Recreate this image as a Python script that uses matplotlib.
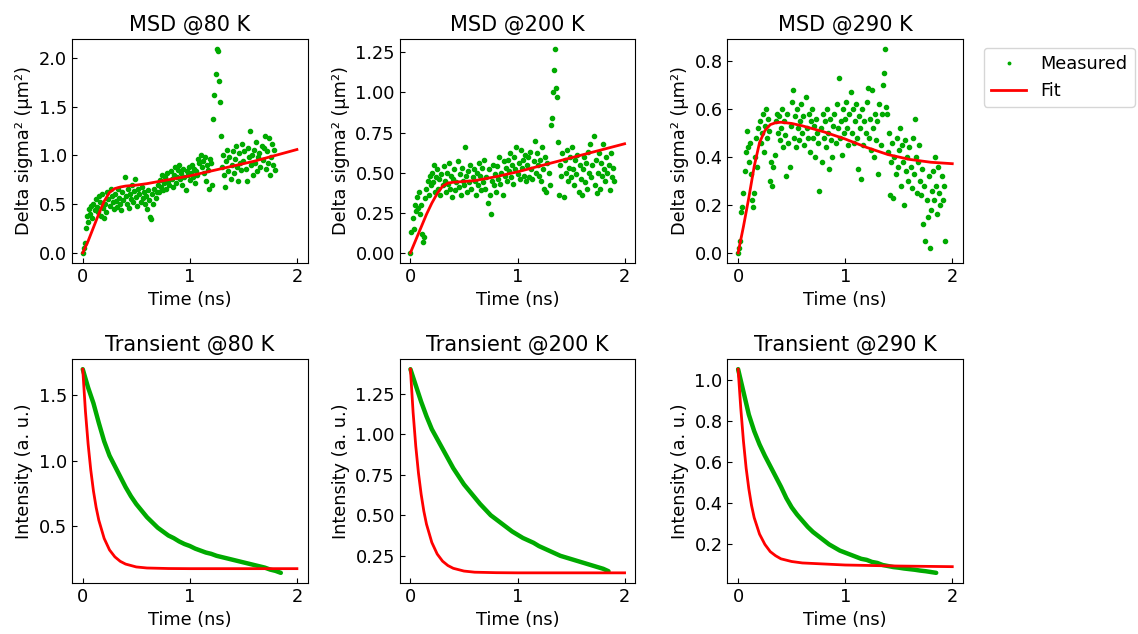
import numpy as np
import matplotlib
matplotlib.use("Agg")
import matplotlib.pyplot as plt
from matplotlib.ticker import MultipleLocator

temps = ["80 K", "200 K", "290 K"]

# MSD measured (sampled every 0.01 ns)
msd_80 = [
    0.00, 0.05, 0.10, 0.25, 0.38, 0.32, 0.45, 0.40, 0.48, 0.36,
    0.50, 0.44, 0.55, 0.47, 0.42, 0.58, 0.52, 0.38, 0.60, 0.46,
    0.36, 0.50, 0.42, 0.62, 0.55, 0.48, 0.65, 0.58, 0.52, 0.45,
    0.60, 0.53, 0.47, 0.66, 0.56, 0.50, 0.44, 0.62, 0.54, 0.78,
    0.58, 0.50, 0.65, 0.46, 0.60, 0.55, 0.70, 0.52, 0.63, 0.76,
    0.57, 0.48, 0.66, 0.60, 0.52, 0.68, 0.56, 0.62, 0.50, 0.58,
    0.45, 0.64, 0.54, 0.37, 0.35, 0.60, 0.50, 0.66, 0.56, 0.62,
    0.70, 0.62, 0.75, 0.68, 0.80, 0.64, 0.72, 0.78, 0.66, 0.82,
    0.74, 0.70, 0.84, 0.76, 0.68, 0.80, 0.88, 0.72, 0.78, 0.85,
    0.90, 0.76, 0.82, 0.70, 0.86, 0.78, 0.64, 0.84, 0.80, 0.88,
    0.75, 0.82, 0.90, 0.78, 0.86, 0.72, 0.84, 0.80, 0.96, 0.92,
    1.00, 0.88, 0.94, 0.82, 0.98, 0.74, 0.90, 0.85, 0.66, 0.96,
    0.92, 0.70, 1.37, 1.62, 1.84, 2.09, 2.07, 1.76, 1.55, 1.20,
    0.88, 1.00, 0.80, 0.68, 0.94, 1.06, 0.84, 0.98, 0.76, 0.90,
    1.05, 0.82, 0.96, 1.10, 0.88, 0.74, 1.02, 0.92, 0.85, 1.12,
    0.94, 1.04, 0.86, 0.74, 1.08, 0.98, 1.25, 0.90, 1.00, 0.80,
    1.06, 0.92, 1.14, 0.84, 0.98, 1.02, 0.88, 1.10, 0.95, 1.08,
    1.20, 0.86, 1.04, 0.92, 1.18, 0.80, 0.98, 1.12, 0.90, 1.06,
    0.85,
]
msd_200 = [
    0.00, 0.13, 0.22, 0.15, 0.30, 0.26, 0.35, 0.28, 0.38, 0.24,
    0.30, 0.12, 0.07, 0.10, 0.34, 0.40, 0.45, 0.36, 0.48, 0.42,
    0.50, 0.44, 0.55, 0.38, 0.47, 0.52, 0.40, 0.46, 0.36, 0.49,
    0.42, 0.54, 0.45, 0.38, 0.50, 0.43, 0.56, 0.40, 0.48, 0.35,
    0.46, 0.52, 0.39, 0.44, 0.57, 0.41, 0.49, 0.36, 0.53, 0.45,
    0.42, 0.66, 0.48, 0.38, 0.51, 0.44, 0.55, 0.40, 0.47, 0.52,
    0.45, 0.36, 0.50, 0.42, 0.56, 0.48, 0.39, 0.53, 0.44, 0.58,
    0.40, 0.47, 0.31, 0.52, 0.36, 0.24, 0.45, 0.55, 0.42, 0.49,
    0.38, 0.54, 0.46, 0.60, 0.43, 0.50, 0.36, 0.57, 0.48, 0.53,
    0.45, 0.58, 0.51, 0.62, 0.47, 0.55, 0.43, 0.60, 0.52, 0.66,
    0.49, 0.56, 0.46, 0.64, 0.53, 0.58, 0.48, 0.61, 0.45, 0.55,
    0.60, 0.47, 0.63, 0.52, 0.46, 0.57, 0.70, 0.50, 0.62, 0.55,
    0.48, 0.58, 0.45, 0.66, 0.52, 0.40, 0.60, 0.38, 0.56, 0.50,
    0.42, 0.80, 0.84, 1.00, 1.14, 1.27, 1.03, 0.97, 0.69, 0.36,
    0.55, 0.48, 0.62, 0.35, 0.58, 0.50, 0.64, 0.45, 0.53, 0.60,
    0.47, 0.66, 0.52, 0.42, 0.58, 0.49, 0.61, 0.38, 0.55, 0.46,
    0.36, 0.52, 0.60, 0.44, 0.56, 0.40, 0.63, 0.50, 0.68, 0.47,
    0.55, 0.73, 0.42, 0.58, 0.37, 0.50, 0.62, 0.40, 0.56, 0.48,
    0.68, 0.52, 0.45, 0.60, 0.50, 0.55, 0.39, 0.62, 0.47, 0.53,
    0.45,
]
msd_290 = [
    0.00, 0.02, 0.05, 0.17, 0.19, 0.25, 0.34, 0.42, 0.51, 0.44,
    0.38, 0.46, 0.33, 0.22, 0.19, 0.25, 0.40, 0.48, 0.36, 0.52,
    0.55, 0.46, 0.50, 0.58, 0.42, 0.53, 0.60, 0.48, 0.56, 0.51,
    0.30, 0.38, 0.28, 0.36, 0.41, 0.55, 0.58, 0.50, 0.57, 0.47,
    0.52, 0.60, 0.44, 0.55, 0.49, 0.32, 0.58, 0.46, 0.36, 0.53,
    0.63, 0.68, 0.48, 0.57, 0.44, 0.60, 0.52, 0.47, 0.55, 0.62,
    0.50, 0.57, 0.45, 0.65, 0.52, 0.48, 0.58, 0.42, 0.55, 0.60,
    0.48, 0.53, 0.40, 0.56, 0.50, 0.46, 0.26, 0.52, 0.38, 0.58,
    0.48, 0.55, 0.44, 0.60, 0.50, 0.35, 0.56, 0.47, 0.40, 0.53,
    0.58, 0.46, 0.62, 0.52, 0.73, 0.48, 0.55, 0.41, 0.60, 0.50,
    0.56, 0.63, 0.52, 0.45, 0.58, 0.67, 0.50, 0.60, 0.46, 0.55,
    0.62, 0.48, 0.35, 0.57, 0.52, 0.31, 0.60, 0.45, 0.55, 0.50,
    0.63, 0.69, 0.48, 0.56, 0.43, 0.68, 0.52, 0.40, 0.58, 0.47,
    0.55, 0.33, 0.62, 0.45, 0.58, 0.70, 0.75, 0.85, 0.61, 0.58,
    0.42, 0.50, 0.24, 0.38, 0.46, 0.23, 0.40, 0.33, 0.48, 0.36,
    0.43, 0.52, 0.28, 0.45, 0.38, 0.20, 0.47, 0.34, 0.40, 0.30,
    0.44, 0.36, 0.27, 0.48, 0.33, 0.56, 0.40, 0.25, 0.38, 0.45,
    0.30, 0.24, 0.35, 0.12, 0.28, 0.05, 0.22, 0.15, 0.32, 0.02,
    0.18, 0.26, 0.34, 0.22, 0.40, 0.28, 0.16, 0.36, 0.25, 0.20,
    0.32, 0.22, 0.28, 0.05,
]

# MSD fit curves
fit_t = [0, 0.05, 0.1, 0.15, 0.2, 0.25, 0.3, 0.35, 0.4, 0.5, 0.6, 0.8, 1.0, 1.2, 1.4, 1.6, 1.8, 2.0]
msd_fit_80 = [0.0, 0.12, 0.26, 0.40, 0.53, 0.62, 0.66, 0.675, 0.685, 0.695, 0.71, 0.75, 0.79, 0.84, 0.89, 0.94, 1.00, 1.06]
msd_fit_200 = [0.0, 0.08, 0.16, 0.24, 0.31, 0.37, 0.415, 0.435, 0.44, 0.445, 0.45, 0.475, 0.505, 0.54, 0.575, 0.61, 0.645, 0.68]
msd_fit_290 = [0.0, 0.11, 0.23, 0.36, 0.46, 0.51, 0.535, 0.543, 0.545, 0.54, 0.53, 0.505, 0.475, 0.44, 0.41, 0.39, 0.378, 0.372]

# Transient measured (every 0.05 ns)
tr_80 = [1.70, 1.56, 1.44, 1.29, 1.15, 1.04, 0.96, 0.88, 0.80, 0.73,
         0.67, 0.62, 0.57, 0.53, 0.49, 0.46, 0.43, 0.41, 0.385, 0.365,
         0.35, 0.33, 0.315, 0.30, 0.29, 0.275, 0.265, 0.255, 0.245, 0.235,
         0.225, 0.215, 0.205, 0.195, 0.185, 0.17, 0.16, 0.145]
tr_200 = [1.40, 1.30, 1.20, 1.11, 1.03, 0.97, 0.91, 0.85, 0.79, 0.74,
          0.69, 0.65, 0.61, 0.57, 0.535, 0.50, 0.475, 0.45, 0.425, 0.40,
          0.38, 0.36, 0.345, 0.33, 0.31, 0.295, 0.28, 0.265, 0.25, 0.24,
          0.23, 0.22, 0.21, 0.20, 0.19, 0.18, 0.17, 0.155]
tr_290 = [1.05, 0.94, 0.83, 0.75, 0.685, 0.63, 0.58, 0.53, 0.48, 0.425,
          0.38, 0.345, 0.315, 0.285, 0.26, 0.24, 0.22, 0.20, 0.185, 0.17,
          0.16, 0.15, 0.14, 0.13, 0.125, 0.115, 0.11, 0.10, 0.095, 0.09,
          0.087, 0.083, 0.08, 0.077, 0.073, 0.07, 0.066, 0.062]

# Transient fit curves
tfit_t = [0, 0.025, 0.05, 0.075, 0.1, 0.125, 0.15, 0.2, 0.25, 0.3, 0.35, 0.4, 0.5, 0.6, 0.8, 1.0, 1.5, 2.0]
tr_fit_80 = [1.70, 1.38, 1.13, 0.93, 0.77, 0.645, 0.547, 0.408, 0.32, 0.267, 0.233, 0.212, 0.19, 0.182, 0.178, 0.177, 0.177, 0.177]
tr_fit_200 = [1.40, 1.134, 0.925, 0.76, 0.63, 0.526, 0.445, 0.332, 0.261, 0.217, 0.19, 0.173, 0.156, 0.149, 0.146, 0.145, 0.145, 0.145]
tr_fit_290 = [1.05, 0.86, 0.70, 0.57, 0.47, 0.39, 0.33, 0.25, 0.20, 0.165, 0.145, 0.13, 0.117, 0.11, 0.105, 0.10, 0.095, 0.092]

msd_data = [msd_80, msd_200, msd_290]
msd_fits = [msd_fit_80, msd_fit_200, msd_fit_290]
tr_data = [tr_80, tr_200, tr_290]
tr_fits = [tr_fit_80, tr_fit_200, tr_fit_290]

# y tick spacing per panel
msd_steps = [0.5, 0.25, 0.2]
tr_steps = [0.5, 0.25, 0.2]

GREEN = '#00aa00'
RED = '#ff0000'

plt.rcParams['font.size'] = 12.8
fig, axes = plt.subplots(2, 3, figsize=(11.38, 6.34), dpi=100)
fig.subplots_adjust(left=0.0633, right=0.8462, top=0.9385, bottom=0.0804,
                    wspace=0.391, hspace=0.4286)

for i, temp in enumerate(temps):
    # MSD row
    ax = axes[0, i]
    y = msd_data[i]
    t = np.arange(len(y)) * 0.01
    ax.plot(t, y, 'o', color=GREEN, markersize=3, label='Measured')
    ax.plot(fit_t, msd_fits[i], color=RED, lw=2, label='Fit')
    ax.set_title('MSD @' + temp, fontsize=15)
    ax.set_xlabel('Time (ns)')
    ax.set_ylabel('Delta sigma² (μm²)')
    ax.yaxis.set_major_locator(MultipleLocator(msd_steps[i]))

    # Transient row
    ax = axes[1, i]
    y = tr_data[i]
    t = np.arange(len(y)) * 0.05
    ax.plot(t, y, color=GREEN, lw=3.2, solid_capstyle='round')
    ax.plot(tfit_t, tr_fits[i], color=RED, lw=2)
    ax.set_title('Transient @' + temp, fontsize=15)
    ax.set_xlabel('Time (ns)')
    ax.set_ylabel('Intensity (a. u.)')
    ax.yaxis.set_major_locator(MultipleLocator(tr_steps[i]))

for ax in axes.flat:
    ax.tick_params(direction='in', labelsize=12.8)
    ax.set_xticks([0, 1, 2])

axes[0, 2].legend(loc='upper left', bbox_to_anchor=(1.05, 1.0), fontsize=12.8,
                  markerscale=0.6)

fig.savefig('out.png', dpi=100)
